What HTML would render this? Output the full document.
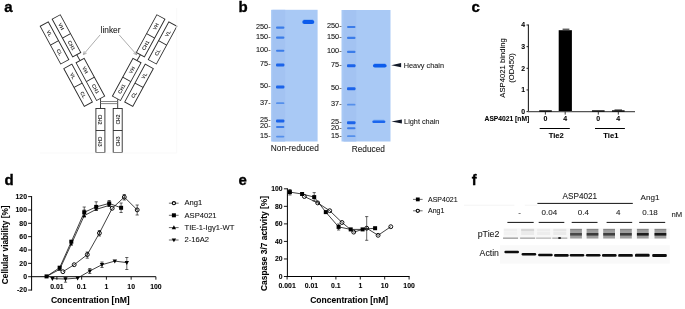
<!DOCTYPE html>
<html><head><meta charset="utf-8"><title>Figure</title>
<style>
html,body{margin:0;padding:0;background:#fff;width:685px;height:309px;overflow:hidden}
svg{display:block;filter:blur(0.3px)}
text{font-family:"Liberation Sans", Arial, sans-serif;stroke:#000;stroke-width:0.15px;stroke-opacity:0.5}
</style></head><body>
<svg width="685" height="309" viewBox="0 0 685 309">
<defs>
<filter id="bl" x="-20%" y="-150%" width="140%" height="400%"><feGaussianBlur stdDeviation="0.55"/></filter>
<filter id="bl3" x="-20%" y="-150%" width="140%" height="400%"><feGaussianBlur stdDeviation="0.8"/></filter>
<filter id="bl2" x="-5%" y="-20%" width="110%" height="140%"><feGaussianBlur stdDeviation="0.75"/></filter>
</defs>
<text x="4.20" y="12.00" font-size="15.0" font-weight="bold" fill="#000" style="stroke:#000;stroke-width:0.35px;stroke-opacity:1">a</text>
<text x="238.50" y="11.60" font-size="15.0" font-weight="bold" fill="#000" style="stroke:#000;stroke-width:0.35px;stroke-opacity:1">b</text>
<text x="471.50" y="11.60" font-size="15.0" font-weight="bold" fill="#000" style="stroke:#000;stroke-width:0.35px;stroke-opacity:1">c</text>
<text x="4.60" y="184.70" font-size="15.0" font-weight="bold" fill="#000" style="stroke:#000;stroke-width:0.35px;stroke-opacity:1">d</text>
<text x="238.60" y="184.80" font-size="15.0" font-weight="bold" fill="#000" style="stroke:#000;stroke-width:0.35px;stroke-opacity:1">e</text>
<text x="471.70" y="185.00" font-size="14.6" font-weight="bold" fill="#000" style="stroke:#000;stroke-width:0.35px;stroke-opacity:1">f</text>
<g transform="translate(40.2,26.2) rotate(-28.5)">
<rect x="0" y="0" width="9.2" height="43.0" fill="#fff" stroke="#2a2a2a" stroke-width="0.9"/>
<line x1="0" y1="21.5" x2="9.2" y2="21.5" stroke="#2a2a2a" stroke-width="0.9"/>
<text transform="translate(4.6,10.75) rotate(90)" x="0" y="1.9" font-size="5.1" font-weight="bold" text-anchor="middle" fill="#333" style="stroke:none">VL</text>
<text transform="translate(4.6,32.25) rotate(90)" x="0" y="1.9" font-size="5.1" font-weight="bold" text-anchor="middle" fill="#333" style="stroke:none">CL</text>
</g>
<g transform="translate(40.2,26.2) rotate(-28.5)">
<rect x="13.9" y="-0.5" width="9.2" height="43.0" fill="#fff" stroke="#2a2a2a" stroke-width="0.9"/>
<line x1="13.9" y1="21.0" x2="23.1" y2="21.0" stroke="#2a2a2a" stroke-width="0.9"/>
<text transform="translate(18.5,10.25) rotate(90)" x="0" y="1.9" font-size="5.1" font-weight="bold" text-anchor="middle" fill="#333" style="stroke:none">VH</text>
<text transform="translate(18.5,31.75) rotate(90)" x="0" y="1.9" font-size="5.1" font-weight="bold" text-anchor="middle" fill="#333" style="stroke:none">CH1</text>
</g>
<g transform="translate(40.2,26.2) rotate(-28.5)">
<rect x="0.5" y="48.5" width="9.2" height="43.0" fill="#fff" stroke="#2a2a2a" stroke-width="0.9"/>
<line x1="0.5" y1="70.0" x2="9.7" y2="70.0" stroke="#2a2a2a" stroke-width="0.9"/>
<text transform="translate(5.1,59.25) rotate(90)" x="0" y="1.9" font-size="5.1" font-weight="bold" text-anchor="middle" fill="#333" style="stroke:none">VL</text>
<text transform="translate(5.1,80.75) rotate(90)" x="0" y="1.9" font-size="5.1" font-weight="bold" text-anchor="middle" fill="#333" style="stroke:none">CL</text>
</g>
<g transform="translate(40.2,26.2) rotate(-28.5)">
<rect x="14.1" y="49.2" width="9.2" height="43.0" fill="#fff" stroke="#2a2a2a" stroke-width="0.9"/>
<line x1="14.1" y1="70.7" x2="23.299999999999997" y2="70.7" stroke="#2a2a2a" stroke-width="0.9"/>
<text transform="translate(18.7,59.95) rotate(90)" x="0" y="1.9" font-size="5.1" font-weight="bold" text-anchor="middle" fill="#333" style="stroke:none">VH</text>
<text transform="translate(18.7,81.45) rotate(90)" x="0" y="1.9" font-size="5.1" font-weight="bold" text-anchor="middle" fill="#333" style="stroke:none">CH1</text>
</g>
<g transform="translate(40.2,26.2) rotate(-28.5)"><line x1="18.5" y1="42.5" x2="18.6" y2="49.2" stroke="#2a2a2a" stroke-width="0.9"/><line x1="18.6" y1="92.2" x2="18.3" y2="93.3" stroke="#2a2a2a" stroke-width="0.9"/></g>
<g transform="translate(176.89999999999998,26.2) rotate(28.5)">
<rect x="-9.2" y="0" width="9.2" height="43.0" fill="#fff" stroke="#2a2a2a" stroke-width="0.9"/>
<line x1="-9.2" y1="21.5" x2="0.0" y2="21.5" stroke="#2a2a2a" stroke-width="0.9"/>
<text transform="translate(-4.6,10.75) rotate(-90)" x="0" y="1.9" font-size="5.1" font-weight="bold" text-anchor="middle" fill="#333" style="stroke:none">VL</text>
<text transform="translate(-4.6,32.25) rotate(-90)" x="0" y="1.9" font-size="5.1" font-weight="bold" text-anchor="middle" fill="#333" style="stroke:none">CL</text>
</g>
<g transform="translate(176.89999999999998,26.2) rotate(28.5)">
<rect x="-23.1" y="-0.5" width="9.2" height="43.0" fill="#fff" stroke="#2a2a2a" stroke-width="0.9"/>
<line x1="-23.1" y1="21.0" x2="-13.900000000000002" y2="21.0" stroke="#2a2a2a" stroke-width="0.9"/>
<text transform="translate(-18.5,10.25) rotate(-90)" x="0" y="1.9" font-size="5.1" font-weight="bold" text-anchor="middle" fill="#333" style="stroke:none">VH</text>
<text transform="translate(-18.5,31.75) rotate(-90)" x="0" y="1.9" font-size="5.1" font-weight="bold" text-anchor="middle" fill="#333" style="stroke:none">CH1</text>
</g>
<g transform="translate(176.89999999999998,26.2) rotate(28.5)">
<rect x="-9.7" y="48.5" width="9.2" height="43.0" fill="#fff" stroke="#2a2a2a" stroke-width="0.9"/>
<line x1="-9.7" y1="70.0" x2="-0.5" y2="70.0" stroke="#2a2a2a" stroke-width="0.9"/>
<text transform="translate(-5.1,59.25) rotate(-90)" x="0" y="1.9" font-size="5.1" font-weight="bold" text-anchor="middle" fill="#333" style="stroke:none">VL</text>
<text transform="translate(-5.1,80.75) rotate(-90)" x="0" y="1.9" font-size="5.1" font-weight="bold" text-anchor="middle" fill="#333" style="stroke:none">CL</text>
</g>
<g transform="translate(176.89999999999998,26.2) rotate(28.5)">
<rect x="-23.299999999999997" y="49.2" width="9.2" height="43.0" fill="#fff" stroke="#2a2a2a" stroke-width="0.9"/>
<line x1="-23.299999999999997" y1="70.7" x2="-14.099999999999998" y2="70.7" stroke="#2a2a2a" stroke-width="0.9"/>
<text transform="translate(-18.699999999999996,59.95) rotate(-90)" x="0" y="1.9" font-size="5.1" font-weight="bold" text-anchor="middle" fill="#333" style="stroke:none">VH</text>
<text transform="translate(-18.699999999999996,81.45) rotate(-90)" x="0" y="1.9" font-size="5.1" font-weight="bold" text-anchor="middle" fill="#333" style="stroke:none">CH1</text>
</g>
<g transform="translate(176.89999999999998,26.2) rotate(28.5)"><line x1="-18.5" y1="42.5" x2="-18.6" y2="49.2" stroke="#2a2a2a" stroke-width="0.9"/></g>
<line x1="100.50" y1="99.20" x2="100.50" y2="108.50" stroke="#2a2a2a" stroke-width="0.9"/>
<line x1="117.70" y1="99.20" x2="117.70" y2="108.50" stroke="#2a2a2a" stroke-width="0.9"/>
<line x1="100.50" y1="101.50" x2="117.50" y2="101.50" stroke="#777" stroke-width="0.9"/>
<line x1="100.50" y1="103.60" x2="117.50" y2="103.60" stroke="#777" stroke-width="0.9"/>
<rect x="95.9" y="108.5" width="9.0" height="44" fill="#fff" stroke="#2a2a2a" stroke-width="0.9"/>
<line x1="95.90" y1="130.50" x2="104.90" y2="130.50" stroke="#2a2a2a" stroke-width="0.9"/>
<text transform="translate(100.4,119.5) rotate(90)" x="0" y="1.9" font-size="5.1" font-weight="bold" text-anchor="middle" fill="#333" style="stroke:none">CH2</text>
<text transform="translate(100.4,141.5) rotate(90)" x="0" y="1.9" font-size="5.1" font-weight="bold" text-anchor="middle" fill="#333" style="stroke:none">CH3</text>
<rect x="113.2" y="108.5" width="9.0" height="44" fill="#fff" stroke="#2a2a2a" stroke-width="0.9"/>
<line x1="113.20" y1="130.50" x2="122.20" y2="130.50" stroke="#2a2a2a" stroke-width="0.9"/>
<text transform="translate(117.7,119.5) rotate(-90)" x="0" y="1.9" font-size="5.1" font-weight="bold" text-anchor="middle" fill="#333" style="stroke:none">CH2</text>
<text transform="translate(117.7,141.5) rotate(-90)" x="0" y="1.9" font-size="5.1" font-weight="bold" text-anchor="middle" fill="#333" style="stroke:none">CH3</text>
<text x="100.60" y="32.90" font-size="8.3" fill="#222">linker</text>
<g stroke="#8a8a8a" stroke-width="0.7" fill="none">
<line x1="100.1" y1="34.9" x2="83.6" y2="54.3"/><polyline points="84.2,51.2 83.4,54.6 86.6,53.2"/>
<line x1="119.2" y1="34.9" x2="136.5" y2="54.5"/><polyline points="133.5,53.4 136.7,54.8 135.9,51.4"/>
</g>
<line x1="176.70" y1="8.00" x2="176.70" y2="153.00" stroke="#f6f6f6" stroke-width="0.8"/>
<line x1="40.00" y1="153.00" x2="176.70" y2="153.00" stroke="#f7f7f7" stroke-width="0.8"/>
<rect x="271.10" y="9.80" width="46.50" height="131.70" fill="#a9c9f5"/>
<rect x="272.50" y="9.80" width="12.70" height="131.70" fill="#a3c3f2"/>
<rect x="276.00" y="26.50" width="8.40" height="2.2" rx="1" fill="#3a7ce9" filter="url(#bl)"/>
<text x="270.60" y="28.90" font-size="7.3" text-anchor="end" fill="#111">250-</text>
<rect x="276.00" y="36.50" width="8.40" height="2.2" rx="1" fill="#3a7ce9" filter="url(#bl)"/>
<text x="270.60" y="38.90" font-size="7.3" text-anchor="end" fill="#111">150-</text>
<rect x="276.00" y="49.65" width="8.40" height="2.1" rx="1" fill="#3a7ce9" filter="url(#bl)"/>
<text x="270.60" y="52.00" font-size="7.3" text-anchor="end" fill="#111">100-</text>
<rect x="276.00" y="63.40" width="8.40" height="3.0" rx="1" fill="#1a64ea" filter="url(#bl)"/>
<text x="270.60" y="66.20" font-size="7.3" text-anchor="end" fill="#111">75-</text>
<rect x="276.00" y="85.60" width="8.40" height="3.0" rx="1" fill="#1a64ea" filter="url(#bl)"/>
<text x="270.60" y="88.40" font-size="7.3" text-anchor="end" fill="#111">50-</text>
<rect x="276.00" y="102.30" width="8.40" height="1.8" rx="1" fill="#5590ec" filter="url(#bl)"/>
<text x="270.60" y="104.50" font-size="7.3" text-anchor="end" fill="#111">37-</text>
<rect x="276.00" y="119.60" width="8.40" height="3.0" rx="1" fill="#1a64ea" filter="url(#bl)"/>
<text x="270.60" y="122.40" font-size="7.3" text-anchor="end" fill="#111">25-</text>
<rect x="276.00" y="125.90" width="8.40" height="2.0" rx="1" fill="#3a7ce9" filter="url(#bl)"/>
<text x="270.60" y="128.20" font-size="7.3" text-anchor="end" fill="#111">20-</text>
<rect x="276.00" y="135.70" width="8.40" height="1.8" rx="1" fill="#5590ec" filter="url(#bl)"/>
<text x="270.60" y="137.90" font-size="7.3" text-anchor="end" fill="#111">15-</text>
<rect x="341.50" y="10.00" width="49.00" height="131.50" fill="#a9c9f5"/>
<rect x="343.50" y="10.00" width="12.80" height="131.50" fill="#a3c3f2"/>
<rect x="347.00" y="25.90" width="8.50" height="2.2" rx="1" fill="#3a7ce9" filter="url(#bl)"/>
<text x="341.60" y="28.30" font-size="7.3" text-anchor="end" fill="#111">250-</text>
<rect x="347.00" y="36.80" width="8.50" height="2.2" rx="1" fill="#3a7ce9" filter="url(#bl)"/>
<text x="341.60" y="39.20" font-size="7.3" text-anchor="end" fill="#111">150-</text>
<rect x="347.00" y="50.85" width="8.50" height="2.1" rx="1" fill="#3a7ce9" filter="url(#bl)"/>
<text x="341.60" y="53.20" font-size="7.3" text-anchor="end" fill="#111">100-</text>
<rect x="347.00" y="64.30" width="8.50" height="3.0" rx="1" fill="#1a64ea" filter="url(#bl)"/>
<text x="341.60" y="67.10" font-size="7.3" text-anchor="end" fill="#111">75-</text>
<rect x="347.00" y="87.20" width="8.50" height="3.0" rx="1" fill="#1a64ea" filter="url(#bl)"/>
<text x="341.60" y="90.00" font-size="7.3" text-anchor="end" fill="#111">50-</text>
<rect x="347.00" y="103.80" width="8.50" height="1.8" rx="1" fill="#5590ec" filter="url(#bl)"/>
<text x="341.60" y="106.00" font-size="7.3" text-anchor="end" fill="#111">37-</text>
<rect x="347.00" y="121.30" width="8.50" height="3.0" rx="1" fill="#1a64ea" filter="url(#bl)"/>
<text x="341.60" y="124.10" font-size="7.3" text-anchor="end" fill="#111">25-</text>
<rect x="347.00" y="127.20" width="8.50" height="2.0" rx="1" fill="#3a7ce9" filter="url(#bl)"/>
<text x="341.60" y="129.50" font-size="7.3" text-anchor="end" fill="#111">20-</text>
<rect x="347.00" y="135.30" width="8.50" height="1.8" rx="1" fill="#5590ec" filter="url(#bl)"/>
<text x="341.60" y="137.50" font-size="7.3" text-anchor="end" fill="#111">15-</text>
<rect x="302.30" y="20.10" width="12.00" height="3.80" rx="2.09" ry="1.90" fill="#0d5cec" filter="url(#bl)"/>
<rect x="303.50" y="19.30" width="9.60" height="1.2" fill="#0d5cec" fill-opacity="0.25" filter="url(#bl)"/>
<rect x="372.90" y="64.00" width="13.80" height="3.50" rx="1.93" ry="1.75" fill="#0d5cec" filter="url(#bl)"/>
<rect x="374.10" y="63.20" width="11.40" height="1.2" fill="#0d5cec" fill-opacity="0.25" filter="url(#bl)"/>
<rect x="372.30" y="120.40" width="13.10" height="2.50" rx="1.38" ry="1.25" fill="#1a66ee" filter="url(#bl)"/>
<rect x="373.50" y="119.60" width="10.70" height="1.2" fill="#1a66ee" fill-opacity="0.25" filter="url(#bl)"/>
<polygon points="391.2,65.2 401.1,63.1 401.1,67.3" fill="#111827"/>
<polygon points="391.4,121.5 401.9,119.4 401.9,123.6" fill="#111827"/>
<text x="403.80" y="67.70" font-size="7.3" fill="#222">Heavy chain</text>
<text x="404.10" y="123.90" font-size="7.3" fill="#222">Light chain</text>
<text x="270.80" y="150.80" font-size="8.3" fill="#222">Non-reduced</text>
<text x="351.70" y="152.40" font-size="8.3" fill="#222">Reduced</text>
<line x1="528.40" y1="24.50" x2="528.40" y2="112.10" stroke="#222" stroke-width="1.1"/>
<line x1="526.50" y1="111.60" x2="528.40" y2="111.60" stroke="#222" stroke-width="1.0"/>
<text x="525.00" y="114.00" font-size="6.9" font-weight="bold" text-anchor="end" fill="#000">0</text>
<line x1="526.50" y1="89.95" x2="528.40" y2="89.95" stroke="#222" stroke-width="1.0"/>
<text x="525.00" y="92.35" font-size="6.9" font-weight="bold" text-anchor="end" fill="#000">1</text>
<line x1="526.50" y1="68.30" x2="528.40" y2="68.30" stroke="#222" stroke-width="1.0"/>
<text x="525.00" y="70.70" font-size="6.9" font-weight="bold" text-anchor="end" fill="#000">2</text>
<line x1="526.50" y1="46.65" x2="528.40" y2="46.65" stroke="#222" stroke-width="1.0"/>
<text x="525.00" y="49.05" font-size="6.9" font-weight="bold" text-anchor="end" fill="#000">3</text>
<line x1="526.50" y1="25.00" x2="528.40" y2="25.00" stroke="#222" stroke-width="1.0"/>
<text x="525.00" y="27.40" font-size="6.9" font-weight="bold" text-anchor="end" fill="#000">4</text>
<rect x="558.70" y="30.20" width="13.20" height="81.40" fill="#000"/>
<line x1="562.60" y1="29.20" x2="569.40" y2="29.20" stroke="#000" stroke-width="0.9"/>
<line x1="527.90" y1="111.60" x2="635.00" y2="111.60" stroke="#555" stroke-width="1.2"/>
<rect x="539.20" y="110.30" width="12.60" height="1.40" fill="#000"/>
<rect x="592.00" y="110.30" width="12.60" height="1.40" fill="#000"/>
<rect x="612.00" y="110.30" width="12.60" height="1.40" fill="#000"/>
<line x1="614.50" y1="110.00" x2="622.00" y2="110.00" stroke="#000" stroke-width="0.9"/>
<line x1="545.40" y1="111.60" x2="545.40" y2="114.60" stroke="#222" stroke-width="0.9"/>
<text x="545.40" y="121.40" font-size="7.0" font-weight="bold" text-anchor="middle" fill="#000">0</text>
<line x1="565.20" y1="111.60" x2="565.20" y2="114.60" stroke="#222" stroke-width="0.9"/>
<text x="565.20" y="121.40" font-size="7.0" font-weight="bold" text-anchor="middle" fill="#000">4</text>
<line x1="598.30" y1="111.60" x2="598.30" y2="114.60" stroke="#222" stroke-width="0.9"/>
<text x="598.30" y="121.40" font-size="7.0" font-weight="bold" text-anchor="middle" fill="#000">0</text>
<line x1="618.30" y1="111.60" x2="618.30" y2="114.60" stroke="#222" stroke-width="0.9"/>
<text x="618.30" y="121.40" font-size="7.0" font-weight="bold" text-anchor="middle" fill="#000">4</text>
<text x="529.20" y="121.20" font-size="6.7" font-weight="bold" text-anchor="end" fill="#000">ASP4021 [nM]</text>
<line x1="539.70" y1="128.50" x2="569.80" y2="128.50" stroke="#000" stroke-width="1"/>
<line x1="595.00" y1="128.50" x2="624.90" y2="128.50" stroke="#000" stroke-width="1"/>
<text x="556.20" y="138.40" font-size="7.6" font-weight="bold" text-anchor="middle" fill="#000">Tie2</text>
<text x="610.90" y="138.40" font-size="7.6" font-weight="bold" text-anchor="middle" fill="#000">Tie1</text>
<text transform="translate(504.9,68) rotate(-90)" font-size="7.7" text-anchor="middle">ASP4021 binding</text>
<text transform="translate(514.2,68) rotate(-90)" font-size="7.7" text-anchor="middle">(OD450)</text>
<line x1="31.60" y1="196.10" x2="31.60" y2="290.55" stroke="#000" stroke-width="1"/>
<line x1="31.10" y1="276.70" x2="155.90" y2="276.70" stroke="#000" stroke-width="1"/>
<line x1="28.10" y1="290.05" x2="31.60" y2="290.05" stroke="#000" stroke-width="0.9"/>
<text x="27.00" y="292.45" font-size="6.9" font-weight="bold" text-anchor="end" fill="#000">-20</text>
<line x1="28.10" y1="276.70" x2="31.60" y2="276.70" stroke="#000" stroke-width="0.9"/>
<text x="27.00" y="279.10" font-size="6.9" font-weight="bold" text-anchor="end" fill="#000">0</text>
<line x1="28.10" y1="263.35" x2="31.60" y2="263.35" stroke="#000" stroke-width="0.9"/>
<text x="27.00" y="265.75" font-size="6.9" font-weight="bold" text-anchor="end" fill="#000">20</text>
<line x1="28.10" y1="250.00" x2="31.60" y2="250.00" stroke="#000" stroke-width="0.9"/>
<text x="27.00" y="252.40" font-size="6.9" font-weight="bold" text-anchor="end" fill="#000">40</text>
<line x1="28.10" y1="236.65" x2="31.60" y2="236.65" stroke="#000" stroke-width="0.9"/>
<text x="27.00" y="239.05" font-size="6.9" font-weight="bold" text-anchor="end" fill="#000">60</text>
<line x1="28.10" y1="223.30" x2="31.60" y2="223.30" stroke="#000" stroke-width="0.9"/>
<text x="27.00" y="225.70" font-size="6.9" font-weight="bold" text-anchor="end" fill="#000">80</text>
<line x1="28.10" y1="209.95" x2="31.60" y2="209.95" stroke="#000" stroke-width="0.9"/>
<text x="27.00" y="212.35" font-size="6.9" font-weight="bold" text-anchor="end" fill="#000">100</text>
<line x1="28.10" y1="196.60" x2="31.60" y2="196.60" stroke="#000" stroke-width="0.9"/>
<text x="27.00" y="199.00" font-size="6.9" font-weight="bold" text-anchor="end" fill="#000">120</text>
<line x1="56.90" y1="276.70" x2="56.90" y2="279.70" stroke="#000" stroke-width="0.9"/>
<text x="56.90" y="288.50" font-size="6.9" font-weight="bold" text-anchor="middle" fill="#000">0.01</text>
<line x1="81.65" y1="276.70" x2="81.65" y2="279.70" stroke="#000" stroke-width="0.9"/>
<text x="81.65" y="288.50" font-size="6.9" font-weight="bold" text-anchor="middle" fill="#000">0.1</text>
<line x1="106.40" y1="276.70" x2="106.40" y2="279.70" stroke="#000" stroke-width="0.9"/>
<text x="106.40" y="288.50" font-size="6.9" font-weight="bold" text-anchor="middle" fill="#000">1</text>
<line x1="131.15" y1="276.70" x2="131.15" y2="279.70" stroke="#000" stroke-width="0.9"/>
<text x="131.15" y="288.50" font-size="6.9" font-weight="bold" text-anchor="middle" fill="#000">10</text>
<line x1="155.90" y1="276.70" x2="155.90" y2="279.70" stroke="#000" stroke-width="0.9"/>
<text x="155.90" y="288.50" font-size="6.9" font-weight="bold" text-anchor="middle" fill="#000">100</text>
<text x="90.30" y="303.40" font-size="8.6" font-weight="bold" text-anchor="middle" fill="#000">Concentration [nM]</text>
<text transform="translate(8.2,244.8) rotate(-90)" font-size="8.3" font-weight="bold" text-anchor="middle">Cellular viability [%]</text>
<polyline points="52.40,278.60 65.50,279.00 77.60,278.10 89.80,271.00 102.00,264.70 114.80,261.10 126.80,262.60" fill="none" stroke="#000" stroke-width="0.75"/>
<line x1="65.50" y1="277.50" x2="65.50" y2="282.20" stroke="#000" stroke-width="0.6"/>
<line x1="63.90" y1="277.50" x2="67.10" y2="277.50" stroke="#000" stroke-width="0.6"/>
<line x1="63.90" y1="282.20" x2="67.10" y2="282.20" stroke="#000" stroke-width="0.6"/>
<line x1="89.80" y1="268.50" x2="89.80" y2="273.50" stroke="#000" stroke-width="0.6"/>
<line x1="88.20" y1="268.50" x2="91.40" y2="268.50" stroke="#000" stroke-width="0.6"/>
<line x1="88.20" y1="273.50" x2="91.40" y2="273.50" stroke="#000" stroke-width="0.6"/>
<line x1="102.00" y1="262.00" x2="102.00" y2="267.50" stroke="#000" stroke-width="0.6"/>
<line x1="100.40" y1="262.00" x2="103.60" y2="262.00" stroke="#000" stroke-width="0.6"/>
<line x1="100.40" y1="267.50" x2="103.60" y2="267.50" stroke="#000" stroke-width="0.6"/>
<line x1="126.80" y1="257.50" x2="126.80" y2="269.50" stroke="#000" stroke-width="0.6"/>
<line x1="125.20" y1="257.50" x2="128.40" y2="257.50" stroke="#000" stroke-width="0.6"/>
<line x1="125.20" y1="269.50" x2="128.40" y2="269.50" stroke="#000" stroke-width="0.6"/>
<polygon points="52.40,280.90 54.60,277.00 50.20,277.00" fill="#000"/>
<polygon points="65.50,281.30 67.70,277.40 63.30,277.40" fill="#000"/>
<polygon points="77.60,280.40 79.80,276.50 75.40,276.50" fill="#000"/>
<polygon points="89.80,273.30 92.00,269.40 87.60,269.40" fill="#000"/>
<polygon points="102.00,267.00 104.20,263.10 99.80,263.10" fill="#000"/>
<polygon points="114.80,263.40 117.00,259.50 112.60,259.50" fill="#000"/>
<polygon points="126.80,264.90 129.00,261.00 124.60,261.00" fill="#000"/>
<polyline points="62.90,271.70 74.20,264.70 87.30,254.60 99.40,233.10 112.20,208.30 124.30,197.10 137.20,209.90" fill="none" stroke="#000" stroke-width="0.75"/>
<line x1="87.30" y1="252.00" x2="87.30" y2="258.20" stroke="#000" stroke-width="0.6"/>
<line x1="85.70" y1="252.00" x2="88.90" y2="252.00" stroke="#000" stroke-width="0.6"/>
<line x1="85.70" y1="258.20" x2="88.90" y2="258.20" stroke="#000" stroke-width="0.6"/>
<line x1="99.40" y1="230.50" x2="99.40" y2="236.00" stroke="#000" stroke-width="0.6"/>
<line x1="97.80" y1="230.50" x2="101.00" y2="230.50" stroke="#000" stroke-width="0.6"/>
<line x1="97.80" y1="236.00" x2="101.00" y2="236.00" stroke="#000" stroke-width="0.6"/>
<line x1="124.30" y1="194.50" x2="124.30" y2="200.00" stroke="#000" stroke-width="0.6"/>
<line x1="122.70" y1="194.50" x2="125.90" y2="194.50" stroke="#000" stroke-width="0.6"/>
<line x1="122.70" y1="200.00" x2="125.90" y2="200.00" stroke="#000" stroke-width="0.6"/>
<line x1="137.20" y1="205.00" x2="137.20" y2="215.00" stroke="#000" stroke-width="0.6"/>
<line x1="135.60" y1="205.00" x2="138.80" y2="205.00" stroke="#000" stroke-width="0.6"/>
<line x1="135.60" y1="215.00" x2="138.80" y2="215.00" stroke="#000" stroke-width="0.6"/>
<circle cx="62.90" cy="271.70" r="1.95" fill="none" stroke="#000" stroke-width="0.95"/>
<circle cx="74.20" cy="264.70" r="1.95" fill="none" stroke="#000" stroke-width="0.95"/>
<circle cx="87.30" cy="254.60" r="1.95" fill="none" stroke="#000" stroke-width="0.95"/>
<circle cx="99.40" cy="233.10" r="1.95" fill="none" stroke="#000" stroke-width="0.95"/>
<circle cx="112.20" cy="208.30" r="1.95" fill="none" stroke="#000" stroke-width="0.95"/>
<circle cx="124.30" cy="197.10" r="1.95" fill="none" stroke="#000" stroke-width="0.95"/>
<circle cx="137.20" cy="209.90" r="1.95" fill="none" stroke="#000" stroke-width="0.95"/>
<polyline points="46.55,276.40 59.65,269.40 71.30,244.20 84.25,215.60 96.20,209.40 109.20,205.40" fill="none" stroke="#000" stroke-width="0.75"/>
<line x1="84.25" y1="210.00" x2="84.25" y2="217.00" stroke="#000" stroke-width="0.6"/>
<line x1="82.65" y1="210.00" x2="85.85" y2="210.00" stroke="#000" stroke-width="0.6"/>
<line x1="82.65" y1="217.00" x2="85.85" y2="217.00" stroke="#000" stroke-width="0.6"/>
<polygon points="59.65,267.50 61.45,270.80 57.85,270.80" fill="#000"/>
<polygon points="71.30,242.30 73.10,245.60 69.50,245.60" fill="#000"/>
<polygon points="84.25,213.70 86.05,217.00 82.45,217.00" fill="#000"/>
<polygon points="96.20,207.50 98.00,210.80 94.40,210.80" fill="#000"/>
<polygon points="109.20,203.50 111.00,206.80 107.40,206.80" fill="#000"/>
<polyline points="46.55,276.40 59.65,267.70 71.30,241.70 84.25,212.30 96.20,206.90 109.20,203.40 121.10,207.80" fill="none" stroke="#000" stroke-width="0.75"/>
<line x1="84.25" y1="207.00" x2="84.25" y2="216.80" stroke="#000" stroke-width="0.6"/>
<line x1="82.65" y1="207.00" x2="85.85" y2="207.00" stroke="#000" stroke-width="0.6"/>
<line x1="82.65" y1="216.80" x2="85.85" y2="216.80" stroke="#000" stroke-width="0.6"/>
<line x1="96.20" y1="201.80" x2="96.20" y2="210.00" stroke="#000" stroke-width="0.6"/>
<line x1="94.60" y1="201.80" x2="97.80" y2="201.80" stroke="#000" stroke-width="0.6"/>
<line x1="94.60" y1="210.00" x2="97.80" y2="210.00" stroke="#000" stroke-width="0.6"/>
<line x1="109.20" y1="200.50" x2="109.20" y2="206.00" stroke="#000" stroke-width="0.6"/>
<line x1="107.60" y1="200.50" x2="110.80" y2="200.50" stroke="#000" stroke-width="0.6"/>
<line x1="107.60" y1="206.00" x2="110.80" y2="206.00" stroke="#000" stroke-width="0.6"/>
<line x1="121.10" y1="203.00" x2="121.10" y2="212.50" stroke="#000" stroke-width="0.6"/>
<line x1="119.50" y1="203.00" x2="122.70" y2="203.00" stroke="#000" stroke-width="0.6"/>
<line x1="119.50" y1="212.50" x2="122.70" y2="212.50" stroke="#000" stroke-width="0.6"/>
<rect x="44.55" y="274.40" width="4.00" height="4.00" fill="#000"/>
<rect x="57.65" y="265.70" width="4.00" height="4.00" fill="#000"/>
<rect x="69.30" y="239.70" width="4.00" height="4.00" fill="#000"/>
<rect x="82.25" y="210.30" width="4.00" height="4.00" fill="#000"/>
<rect x="94.20" y="204.90" width="4.00" height="4.00" fill="#000"/>
<rect x="107.20" y="201.40" width="4.00" height="4.00" fill="#000"/>
<rect x="119.10" y="205.80" width="4.00" height="4.00" fill="#000"/>
<line x1="168.90" y1="203.20" x2="178.60" y2="203.20" stroke="#444" stroke-width="0.8"/>
<circle cx="173.90" cy="203.20" r="1.6" fill="#fff" stroke="#000" stroke-width="1.1"/>
<text x="184.50" y="205.40" font-size="7.6" fill="#111">Ang1</text>
<line x1="168.90" y1="215.30" x2="178.60" y2="215.30" stroke="#444" stroke-width="0.8"/>
<rect x="171.90" y="213.30" width="4.00" height="4.00" fill="#000"/>
<text x="184.50" y="217.50" font-size="7.6" fill="#111">ASP4021</text>
<line x1="168.90" y1="227.60" x2="178.60" y2="227.60" stroke="#444" stroke-width="0.8"/>
<polygon points="173.90,225.30 176.10,229.20 171.70,229.20" fill="#000"/>
<text x="184.50" y="229.80" font-size="7.6" fill="#111">TIE-1-Igγ1-WT</text>
<line x1="168.90" y1="240.00" x2="178.60" y2="240.00" stroke="#444" stroke-width="0.8"/>
<polygon points="173.90,242.30 176.10,238.40 171.70,238.40" fill="#000"/>
<text x="184.50" y="242.20" font-size="7.6" fill="#111">2-16A2</text>
<line x1="287.40" y1="188.30" x2="287.40" y2="277.00" stroke="#000" stroke-width="1"/>
<line x1="286.90" y1="276.50" x2="409.60" y2="276.50" stroke="#000" stroke-width="1"/>
<line x1="283.90" y1="276.50" x2="287.40" y2="276.50" stroke="#000" stroke-width="0.9"/>
<text x="282.60" y="278.80" font-size="6.8" font-weight="bold" text-anchor="end" fill="#000">0</text>
<line x1="283.90" y1="258.96" x2="287.40" y2="258.96" stroke="#000" stroke-width="0.9"/>
<text x="282.60" y="261.26" font-size="6.8" font-weight="bold" text-anchor="end" fill="#000">20</text>
<line x1="283.90" y1="241.42" x2="287.40" y2="241.42" stroke="#000" stroke-width="0.9"/>
<text x="282.60" y="243.72" font-size="6.8" font-weight="bold" text-anchor="end" fill="#000">40</text>
<line x1="283.90" y1="223.88" x2="287.40" y2="223.88" stroke="#000" stroke-width="0.9"/>
<text x="282.60" y="226.18" font-size="6.8" font-weight="bold" text-anchor="end" fill="#000">60</text>
<line x1="283.90" y1="206.34" x2="287.40" y2="206.34" stroke="#000" stroke-width="0.9"/>
<text x="282.60" y="208.64" font-size="6.8" font-weight="bold" text-anchor="end" fill="#000">80</text>
<line x1="283.90" y1="188.80" x2="287.40" y2="188.80" stroke="#000" stroke-width="0.9"/>
<text x="282.60" y="191.10" font-size="6.8" font-weight="bold" text-anchor="end" fill="#000">100</text>
<line x1="287.10" y1="276.50" x2="287.10" y2="279.50" stroke="#000" stroke-width="0.9"/>
<text x="287.10" y="287.80" font-size="6.9" font-weight="bold" text-anchor="middle" fill="#000">0.001</text>
<line x1="311.50" y1="276.50" x2="311.50" y2="279.50" stroke="#000" stroke-width="0.9"/>
<text x="311.50" y="287.80" font-size="6.9" font-weight="bold" text-anchor="middle" fill="#000">0.01</text>
<line x1="335.90" y1="276.50" x2="335.90" y2="279.50" stroke="#000" stroke-width="0.9"/>
<text x="335.90" y="287.80" font-size="6.9" font-weight="bold" text-anchor="middle" fill="#000">0.1</text>
<line x1="360.30" y1="276.50" x2="360.30" y2="279.50" stroke="#000" stroke-width="0.9"/>
<text x="360.30" y="287.80" font-size="6.9" font-weight="bold" text-anchor="middle" fill="#000">1</text>
<line x1="384.70" y1="276.50" x2="384.70" y2="279.50" stroke="#000" stroke-width="0.9"/>
<text x="384.70" y="287.80" font-size="6.9" font-weight="bold" text-anchor="middle" fill="#000">10</text>
<line x1="409.10" y1="276.50" x2="409.10" y2="279.50" stroke="#000" stroke-width="0.9"/>
<text x="409.10" y="287.80" font-size="6.9" font-weight="bold" text-anchor="middle" fill="#000">100</text>
<text x="349.20" y="303.10" font-size="8.5" font-weight="bold" text-anchor="middle" fill="#000">Concentration [nM]</text>
<text transform="translate(266.6,243.5) rotate(-90)" font-size="8.4" font-weight="bold" text-anchor="middle">Caspase 3/7 activity [%]</text>
<polyline points="304.40,196.50 317.70,202.90 329.70,210.70 342.00,222.50 353.70,232.10 366.70,228.20 378.10,235.30 390.80,226.70" fill="none" stroke="#000" stroke-width="0.75"/>
<line x1="366.70" y1="216.60" x2="366.70" y2="240.30" stroke="#000" stroke-width="0.6"/>
<line x1="365.10" y1="216.60" x2="368.30" y2="216.60" stroke="#000" stroke-width="0.6"/>
<line x1="365.10" y1="240.30" x2="368.30" y2="240.30" stroke="#000" stroke-width="0.6"/>
<circle cx="304.40" cy="196.50" r="1.95" fill="none" stroke="#000" stroke-width="0.95"/>
<circle cx="317.70" cy="202.90" r="1.95" fill="none" stroke="#000" stroke-width="0.95"/>
<circle cx="329.70" cy="210.70" r="1.95" fill="none" stroke="#000" stroke-width="0.95"/>
<circle cx="342.00" cy="222.50" r="1.95" fill="none" stroke="#000" stroke-width="0.95"/>
<circle cx="353.70" cy="232.10" r="1.95" fill="none" stroke="#000" stroke-width="0.95"/>
<circle cx="366.70" cy="228.20" r="1.95" fill="none" stroke="#000" stroke-width="0.95"/>
<circle cx="378.10" cy="235.30" r="1.95" fill="none" stroke="#000" stroke-width="0.95"/>
<circle cx="390.80" cy="226.70" r="1.95" fill="none" stroke="#000" stroke-width="0.95"/>
<polyline points="289.90,192.10 302.10,194.00 314.20,197.10 325.80,212.10 338.60,226.90 350.70,229.40 362.60,229.40 375.10,228.20" fill="none" stroke="#000" stroke-width="0.75"/>
<line x1="289.90" y1="189.50" x2="289.90" y2="195.00" stroke="#000" stroke-width="0.6"/>
<line x1="288.30" y1="189.50" x2="291.50" y2="189.50" stroke="#000" stroke-width="0.6"/>
<line x1="288.30" y1="195.00" x2="291.50" y2="195.00" stroke="#000" stroke-width="0.6"/>
<line x1="314.20" y1="192.60" x2="314.20" y2="201.00" stroke="#000" stroke-width="0.6"/>
<line x1="312.60" y1="192.60" x2="315.80" y2="192.60" stroke="#000" stroke-width="0.6"/>
<line x1="312.60" y1="201.00" x2="315.80" y2="201.00" stroke="#000" stroke-width="0.6"/>
<line x1="338.60" y1="224.00" x2="338.60" y2="230.00" stroke="#000" stroke-width="0.6"/>
<line x1="337.00" y1="224.00" x2="340.20" y2="224.00" stroke="#000" stroke-width="0.6"/>
<line x1="337.00" y1="230.00" x2="340.20" y2="230.00" stroke="#000" stroke-width="0.6"/>
<rect x="287.90" y="190.10" width="4.00" height="4.00" fill="#000"/>
<rect x="300.10" y="192.00" width="4.00" height="4.00" fill="#000"/>
<rect x="312.20" y="195.10" width="4.00" height="4.00" fill="#000"/>
<rect x="323.80" y="210.10" width="4.00" height="4.00" fill="#000"/>
<rect x="336.60" y="224.90" width="4.00" height="4.00" fill="#000"/>
<rect x="348.70" y="227.40" width="4.00" height="4.00" fill="#000"/>
<rect x="360.60" y="227.40" width="4.00" height="4.00" fill="#000"/>
<rect x="373.10" y="226.20" width="4.00" height="4.00" fill="#000"/>
<line x1="413.00" y1="199.40" x2="422.60" y2="199.40" stroke="#444" stroke-width="0.8"/>
<rect x="415.90" y="197.50" width="3.80" height="3.80" fill="#000"/>
<text x="428.00" y="201.90" font-size="7.0" fill="#111">ASP4021</text>
<line x1="413.00" y1="210.80" x2="422.60" y2="210.80" stroke="#444" stroke-width="0.8"/>
<circle cx="417.80" cy="210.80" r="1.6" fill="#fff" stroke="#000" stroke-width="1.1"/>
<text x="428.00" y="213.30" font-size="7.0" fill="#111">Ang1</text>
<line x1="464.00" y1="205.20" x2="514.30" y2="205.20" stroke="#f1f1f1" stroke-width="0.8"/>
<line x1="524.80" y1="205.20" x2="537.00" y2="205.20" stroke="#f1f1f1" stroke-width="0.8"/>
<text x="562.50" y="199.10" font-size="8.2" fill="#222">ASP4021</text>
<text x="640.50" y="199.50" font-size="8.1" fill="#222">Ang1</text>
<line x1="537.40" y1="203.40" x2="632.80" y2="203.40" stroke="#111" stroke-width="1"/>
<text x="519.60" y="215.20" font-size="8.0" text-anchor="middle" fill="#222">-</text>
<text x="549.40" y="215.20" font-size="8.0" text-anchor="middle" fill="#222">0.04</text>
<text x="583.30" y="215.20" font-size="8.0" text-anchor="middle" fill="#222">0.4</text>
<text x="618.30" y="215.20" font-size="8.0" text-anchor="middle" fill="#222">4</text>
<text x="650.00" y="215.20" font-size="8.0" text-anchor="middle" fill="#222">0.18</text>
<text x="671.40" y="217.10" font-size="7.7" fill="#222">nM</text>
<line x1="507.40" y1="222.40" x2="533.70" y2="222.40" stroke="#111" stroke-width="1"/>
<line x1="538.70" y1="222.40" x2="564.30" y2="222.40" stroke="#111" stroke-width="1"/>
<line x1="571.70" y1="222.40" x2="597.50" y2="222.40" stroke="#111" stroke-width="1"/>
<line x1="606.60" y1="222.40" x2="632.20" y2="222.40" stroke="#111" stroke-width="1"/>
<line x1="639.20" y1="222.40" x2="665.20" y2="222.40" stroke="#111" stroke-width="1"/>
<text x="477.70" y="236.90" font-size="8.8" fill="#1a1a1a">pTie2</text>
<text x="479.60" y="256.40" font-size="8.7" fill="#1a1a1a">Actin</text>
<rect x="503.50" y="228.40" width="166.30" height="10.60" fill="#f7f7f7"/>
<rect x="500.00" y="245.20" width="169.80" height="18.40" fill="#f9f9f9"/>
<g filter="url(#bl2)">
<rect x="504.00" y="228.8" width="13.0" height="2.6" fill="#000" fill-opacity="0.03"/>
<rect x="504.00" y="232.0" width="13.0" height="3.0" fill="#000" fill-opacity="0.02"/>
<rect x="503.00" y="237.5" width="15.0" height="1.3" fill="#000" fill-opacity="0.38"/>
<rect x="521.10" y="228.8" width="13.0" height="2.6" fill="#000" fill-opacity="0.13"/>
<rect x="521.10" y="232.0" width="13.0" height="3.0" fill="#000" fill-opacity="0.05"/>
<rect x="520.10" y="237.5" width="15.0" height="1.3" fill="#000" fill-opacity="0.34"/>
<rect x="537.10" y="228.8" width="13.0" height="2.6" fill="#000" fill-opacity="0.04"/>
<rect x="537.10" y="232.0" width="13.0" height="3.0" fill="#000" fill-opacity="0.04"/>
<rect x="536.10" y="237.5" width="15.0" height="1.3" fill="#000" fill-opacity="0.25"/>
<rect x="553.30" y="228.8" width="13.0" height="2.6" fill="#000" fill-opacity="0.07"/>
<rect x="553.30" y="232.0" width="13.0" height="3.0" fill="#000" fill-opacity="0.05"/>
<rect x="552.30" y="237.5" width="15.0" height="1.3" fill="#000" fill-opacity="0.3"/>
<ellipse cx="559.6" cy="238.1" rx="1.6" ry="1.0" fill="#000" fill-opacity="0.8"/>
<rect x="570.10" y="228.8" width="11.8" height="9.7" fill="#000" fill-opacity="0.36"/>
<rect x="570.10" y="229.0" width="11.8" height="1.2" fill="#000" fill-opacity="0.15"/>
<rect x="570.10" y="233.0" width="11.8" height="2.6" fill="#000" fill-opacity="0.55"/>
<rect x="586.60" y="228.8" width="11.8" height="9.7" fill="#000" fill-opacity="0.36"/>
<rect x="586.60" y="229.0" width="11.8" height="1.2" fill="#000" fill-opacity="0.15"/>
<rect x="586.60" y="233.0" width="11.8" height="2.6" fill="#000" fill-opacity="0.64"/>
<rect x="603.20" y="228.8" width="11.8" height="9.7" fill="#000" fill-opacity="0.36"/>
<rect x="603.20" y="229.0" width="11.8" height="1.2" fill="#000" fill-opacity="0.15"/>
<rect x="603.20" y="233.0" width="11.8" height="2.6" fill="#000" fill-opacity="0.6"/>
<rect x="620.00" y="228.8" width="11.8" height="9.7" fill="#000" fill-opacity="0.36"/>
<rect x="620.00" y="229.0" width="11.8" height="1.2" fill="#000" fill-opacity="0.15"/>
<rect x="620.00" y="233.0" width="11.8" height="2.6" fill="#000" fill-opacity="0.62"/>
<rect x="636.90" y="228.8" width="11.8" height="9.7" fill="#000" fill-opacity="0.36"/>
<rect x="636.90" y="229.0" width="11.8" height="1.2" fill="#000" fill-opacity="0.15"/>
<rect x="636.90" y="233.0" width="11.8" height="2.6" fill="#000" fill-opacity="0.82"/>
<rect x="654.50" y="228.8" width="11.8" height="9.7" fill="#000" fill-opacity="0.36"/>
<rect x="654.50" y="229.0" width="11.8" height="1.2" fill="#000" fill-opacity="0.15"/>
<rect x="654.50" y="233.0" width="11.8" height="2.6" fill="#000" fill-opacity="0.85"/>
<rect x="504.40" y="250.70" width="14.6" height="2.6" rx="1.2" fill="#0a0a0a"/>
<rect x="521.60" y="252.90" width="14.6" height="2.6" rx="1.2" fill="#0a0a0a"/>
<rect x="538.10" y="253.70" width="14.6" height="2.6" rx="1.2" fill="#0a0a0a"/>
<rect x="554.10" y="253.90" width="14.6" height="2.8" rx="1.2" fill="#0a0a0a"/>
<rect x="569.70" y="253.90" width="14.6" height="2.6" rx="1.2" fill="#0a0a0a"/>
<rect x="585.90" y="254.05" width="14.6" height="2.5" rx="1.2" fill="#0a0a0a"/>
<rect x="602.00" y="254.05" width="14.6" height="2.7" rx="1.2" fill="#0a0a0a"/>
<rect x="618.20" y="253.95" width="14.6" height="2.9" rx="1.2" fill="#0a0a0a"/>
<rect x="635.00" y="253.75" width="14.6" height="3.1" rx="1.2" fill="#0a0a0a"/>
<rect x="652.20" y="254.00" width="14.6" height="3.0" rx="1.2" fill="#0a0a0a"/>
</g>
</svg>
</body></html>
